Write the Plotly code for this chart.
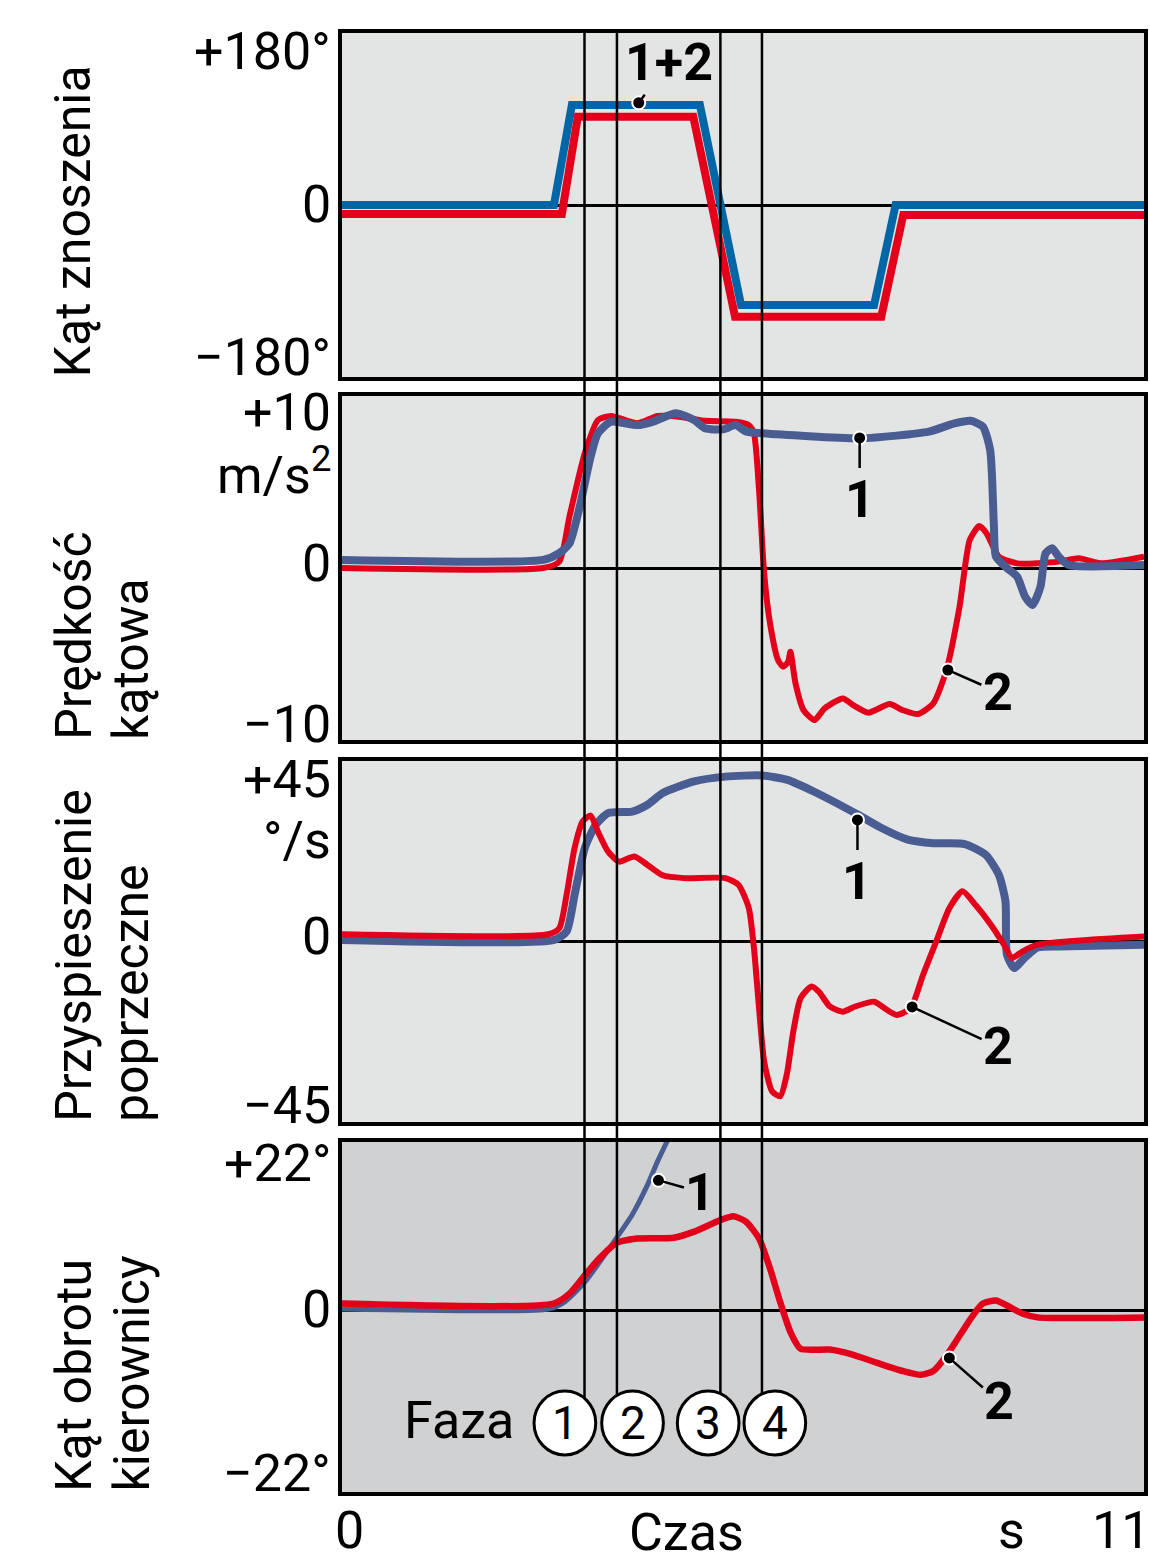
import plotly.graph_objects as go
from plotly.subplots import make_subplots

# ---------------- DATA ----------------
# Panel 1: Kąt znoszenia (deg)
t_drift_1 = [0, 2.907, 3.153, 4.909, 5.473, 7.298, 7.593, 11]
drift_1 = [0, 0, 104.7, 104.7, -104.7, -104.7, 0, 0]
t_drift_2 = [0, 3.016, 3.235, 4.818, 5.391, 7.397, 7.698, 11]
drift_2 = [-9.4, -9.4, 92.4, 92.4, -116.9, -116.9, -10.5, -10.5]

# Panel 2: Prędkość kątowa
t_yaw_1 = [0.00, 2.76, 2.98, 3.12, 3.26, 3.41, 3.51, 3.69, 4.05, 4.26, 4.58, 4.83, 4.98, 5.23,
           5.40, 5.54, 5.76, 7.12, 8.05, 8.40, 8.62, 8.79, 8.89, 8.94, 8.97, 9.12, 9.26, 9.37,
           9.47, 9.58, 9.65, 9.74, 9.83, 9.97, 11.0]
yaw_1 = [0.47, 0.47, 0.87, 1.43, 3.56, 6.47, 7.83, 8.51, 8.31, 8.5, 9.0, 8.6, 8.12, 8.06,
         8.31, 7.93, 7.83, 7.54, 7.93, 8.41, 8.56, 8.22, 6.86, 2.6, 0.66, 0.0, -0.5, -1.67,
         -2.15, -1.09, 0.85, 1.15, 0.66, 0.17, 0.17]
t_yaw_2 = [0.00, 2.76, 2.98, 3.12, 3.33, 3.51, 3.69, 4.05, 4.33, 4.62, 4.98, 5.40, 5.58, 5.65,
           5.72, 5.79, 5.87, 5.98, 6.05, 6.12, 6.15, 6.22, 6.33, 6.48, 6.62, 6.87, 7.01, 7.22,
           7.51, 7.69, 7.90, 8.11, 8.29, 8.47, 8.61, 8.74, 8.84, 9.01, 9.26, 9.83, 10.11, 10.40, 11.0]
yaw_2 = [0.0, 0.0, 0.37, 3.0, 6.67, 8.6, 8.84, 8.41, 8.84, 8.8, 8.56, 8.5, 8.31, 7.83,
         4.53, -0.31, -3.2, -5.35, -5.74, -5.45, -4.87, -6.7, -8.26, -8.84, -8.16, -7.58, -7.97, -8.41,
         -7.91, -8.26, -8.49, -7.87, -5.93, -2.25, 1.63, 2.44, 2.02, 0.66, 0.27, 0.37, 0.56, 0.27, 0.66]

# Panel 3: Przyspieszenie poprzeczne
t_lat_1 = [0.00, 2.91, 3.08, 3.19, 3.33, 3.48, 3.65, 3.98, 4.19, 4.40, 4.83, 5.26, 5.76, 6.11,
           6.47, 7.08, 7.40, 7.76, 8.11, 8.54, 8.83, 9.01, 9.10, 9.12, 9.22, 9.36, 9.54, 9.83, 11.0]
lat_1 = [0.4, 0.4, 2.5, 11.6, 23.3, 29.1, 32.0, 32.4, 34.1, 37.0, 39.9, 41.1, 41.4, 40.3,
         37.4, 31.6, 28.3, 25.4, 24.5, 24.3, 21.6, 16.6, 10.0, -3.3, -6.6, -4.1, -1.5, -1.25, -0.8]
t_lat_2 = [0.00, 2.83, 2.98, 3.08, 3.19, 3.30, 3.41, 3.51, 3.65, 3.80, 4.01, 4.19, 4.40, 4.69,
           5.26, 5.44, 5.58, 5.65, 5.72, 5.79, 5.90, 6.01, 6.10, 6.19, 6.29, 6.44, 6.54, 6.69,
           6.87, 7.04, 7.30, 7.47, 7.61, 7.80, 7.97, 8.15, 8.33, 8.51, 8.69, 8.90, 9.08, 9.19,
           9.33, 9.54, 11.0]
lat_2 = [1.8, 1.8, 3.3, 11.6, 23.3, 29.9, 31.4, 27.4, 22.4, 19.9, 21.2, 19.1, 16.5, 15.8,
         15.8, 14.1, 8.3, -1.6, -16.6, -29.9, -37.4, -38.6, -33.2, -22.4, -14.1, -11.2, -12.5, -16.2,
         -17.5, -16.2, -15.0, -17.0, -18.3, -16.6, -8.3, 0.0, 8.3, 12.5, 9.1, 4.2, -0.8, -4.1,
         -2.5, -0.8, 1.25]

# Panel 4: Kąt obrotu kierownicy (deg)
t_steer_1 = [0.00, 2.83, 3.05, 3.33, 3.76, 3.98, 4.19, 4.33, 4.46]
steer_1 = [0.2, 0.2, 1.1, 3.7, 9.4, 12.5, 16.4, 19.5, 22.1]
t_steer_2 = [0.00, 2.90, 3.12, 3.33, 3.55, 3.76, 4.05, 4.55, 4.83, 5.19, 5.37, 5.54, 5.72, 5.87,
             6.01, 6.15, 6.29, 6.69, 6.98, 7.33, 7.69, 7.94, 8.11, 8.29, 8.47, 8.65, 8.79, 8.97,
             9.12, 9.33, 9.54, 11.0]
steer_2 = [0.9, 0.9, 2.2, 4.6, 7.0, 8.8, 9.4, 9.5, 10.3, 11.8, 12.3, 11.6, 9.4, 5.5,
           1.1, -2.8, -5.0, -5.1, -5.7, -6.8, -7.9, -8.4, -7.9, -5.9, -3.3, -0.7, 0.9, 1.3,
           0.65, -0.4, -0.9, -0.9]

# Phase boundaries (s)
phase_times = [3.326, 3.771, 5.19, 5.76]
phase_labels = ["1", "2", "3", "4"]

# Tick labels
ticks_p1 = ["+180°", "0", "−180°"]
ticks_p2 = ["+10", "m/s<sup>2</sup>", "0", "−10"]
ticks_p3 = ["+45", "°/s", "0", "−45"]
ticks_p4 = ["+22°", "0", "−22°"]
x_labels = ["0", "Czas", "s", "11"]
titles = [["Kąt znoszenia"], ["Prędkość", "kątowa"], ["Przyspieszenie", "poprzeczne"],
          ["Kąt obrotu", "kierownicy"]]

# Callouts: (panel, label, t, value, ax, ay)
callouts = [
    (1, "1+2", 4.07, 107.0, 30, -40),
    (2, "1", 7.10, 7.56, 0, 62),
    (2, "2", 8.31, -5.93, 50, 22),
    (3, "1", 7.07, 30.3, 0, 62),
    (3, "2", 7.82, -16.3, 86, 40),
    (4, "1", 4.34, 17.0, 42, 12),
    (4, "2", 8.33, -6.2, 50, 44),
]

# ---------------- STYLE ----------------
W, H = 1150, 1563
L, R, T, B = 342, 1148, 33, 1492
BLUE1 = "#0066a6"
BLUE = "#4a5d93"
RED = "#e2001a"
BG = "#e3e4e4"
BG4 = "#d0d1d3"
FONT = "Roboto"
FS = 52


def px(x):
    return (x - L) / (R - L)


def py(y):
    return (B - y) / (B - T)


fig = make_subplots(rows=4, cols=1)

# panel 1
fig.add_trace(go.Scatter(x=t_drift_1, y=drift_1, mode="lines", line=dict(color=BLUE1, width=8)), 1, 1)
fig.add_trace(go.Scatter(x=t_drift_2, y=drift_2, mode="lines", line=dict(color=RED, width=8)), 1, 1)
# panel 2
fig.add_trace(go.Scatter(x=t_yaw_2, y=yaw_2, mode="lines", line=dict(color=RED, width=6, shape="spline", smoothing=0.6)), 2, 1)
fig.add_trace(go.Scatter(x=t_yaw_1, y=yaw_1, mode="lines", line=dict(color=BLUE, width=8, shape="spline", smoothing=0.6)), 2, 1)
# panel 3
fig.add_trace(go.Scatter(x=t_lat_1, y=lat_1, mode="lines", line=dict(color=BLUE, width=8, shape="spline", smoothing=0.6)), 3, 1)
fig.add_trace(go.Scatter(x=t_lat_2, y=lat_2, mode="lines", line=dict(color=RED, width=6, shape="spline", smoothing=0.6)), 3, 1)
# panel 4
fig.add_trace(go.Scatter(x=t_steer_1, y=steer_1, mode="lines", line=dict(color=BLUE, width=5, shape="spline", smoothing=0.6)), 4, 1)
fig.add_trace(go.Scatter(x=t_steer_2, y=steer_2, mode="lines", line=dict(color=RED, width=6.5, shape="spline", smoothing=0.6)), 4, 1)

# callout dots
for (p, lab, tx, vy, ax, ay) in callouts:
    fig.add_trace(go.Scatter(x=[tx], y=[vy], mode="markers",
                             marker=dict(color="black", size=13, line=dict(color="white", width=2))), p, 1)

domains = [
    [py(377), py(33)],
    [py(740), py(396)],
    [py(1122), py(761)],
    [py(1492), py(1142)],
]
yranges = [[-180, 180], [-10, 10], [-45, 45], [-23.7, 22]]

layout_axes = {}
for i in range(4):
    sx = "" if i == 0 else str(i + 1)
    layout_axes["xaxis" + sx] = dict(range=[0, 11], domain=[0, 1], showline=True, mirror=True,
                                     linewidth=4, linecolor="black", showticklabels=False,
                                     ticks="", showgrid=False, zeroline=False, fixedrange=True)
    layout_axes["yaxis" + sx] = dict(range=yranges[i], domain=domains[i], showline=True, mirror=True,
                                     linewidth=4, linecolor="black", showticklabels=False,
                                     ticks="", showgrid=False, zeroline=True, zerolinecolor="black",
                                     zerolinewidth=3, fixedrange=True)

fig.update_layout(**layout_axes)

shapes = []
# darker background for panel 4
shapes.append(dict(type="rect", xref="x4 domain", yref="y4 domain", x0=0, x1=1, y0=0, y1=1,
                   fillcolor=BG4, line=dict(width=0), layer="below"))
# phase lines
for t in phase_times:
    shapes.append(dict(type="line", xref="x", yref="paper", x0=t, x1=t, y0=py(1423), y1=py(33),
                       line=dict(color="black", width=2.5), layer="above"))
# phase circles
circle_cx = [566, 634, 710, 777]
for cx in circle_cx:
    shapes.append(dict(type="circle", xref="paper", yref="paper",
                       x0=px(cx - 31), x1=px(cx + 31), y0=py(1455), y1=py(1391),
                       fillcolor="white", line=dict(color="black", width=3), layer="above"))

annotations = []


def txt(text, x, y, size=FS, xanchor="center", yanchor="middle", angle=0, bold=False):
    if bold:
        text = "<b>" + text + "</b>"
    annotations.append(dict(text=text, xref="paper", yref="paper", x=px(x), y=py(y),
                            xanchor=xanchor, yanchor=yanchor, showarrow=False, textangle=angle,
                            font=dict(family=FONT, size=size, color="black")))


# y tick labels
for lab, y in zip(ticks_p1, [52, 205, 358]):
    txt(lab, 333, y, xanchor="right")
for lab, y in zip(ticks_p2, [413, 472, 563, 724]):
    txt(lab, 333, y, xanchor="right")
for lab, y in zip(ticks_p3, [779, 840, 937, 1105]):
    txt(lab, 333, y, xanchor="right")
for lab, y in zip(ticks_p4, [1163, 1309, 1473]):
    txt(lab, 333, y, xanchor="right")

# axis titles (rotated)
bottoms = [379, 742, 1124, 1494]
for lines, b in zip(titles, bottoms):
    for j, line in enumerate(lines):
        txt(line, 72 + 58 * j, b, size=50, yanchor="bottom", angle=-90)

# x labels
txt(x_labels[0], 333, 1563, xanchor="left", yanchor="bottom")
txt(x_labels[1], 688, 1565, yanchor="bottom")
txt(x_labels[2], 1015, 1563, yanchor="bottom")
txt(x_labels[3], 1156, 1563, xanchor="right", yanchor="bottom")

# Faza and phase numbers
txt("Faza", 460, 1420)
for lab, cx in zip(phase_labels, circle_cx):
    txt(lab, cx, 1423, size=46)

# callouts
for (p, lab, tx, vy, ax, ay) in callouts:
    sx = "" if p == 1 else str(p)
    annotations.append(dict(text="<b>" + lab + "</b>", x=tx, y=vy, xref="x" + sx, yref="y" + sx,
                            ax=ax, ay=ay, showarrow=True, arrowhead=0, arrowwidth=2.5,
                            arrowcolor="black", standoff=4,
                            font=dict(family=FONT, size=52, color="black")))

fig.update_layout(width=W, height=H, margin=dict(l=L, r=W - R, t=T, b=H - B),
                  paper_bgcolor="white", plot_bgcolor=BG, showlegend=False,
                  shapes=shapes, annotations=annotations,
                  font=dict(family=FONT, size=FS, color="black"))

fig.write_html("out.html", config={"displayModeBar": False},
               post_script="document.body.style.margin='0';document.body.style.overflow='hidden';")
